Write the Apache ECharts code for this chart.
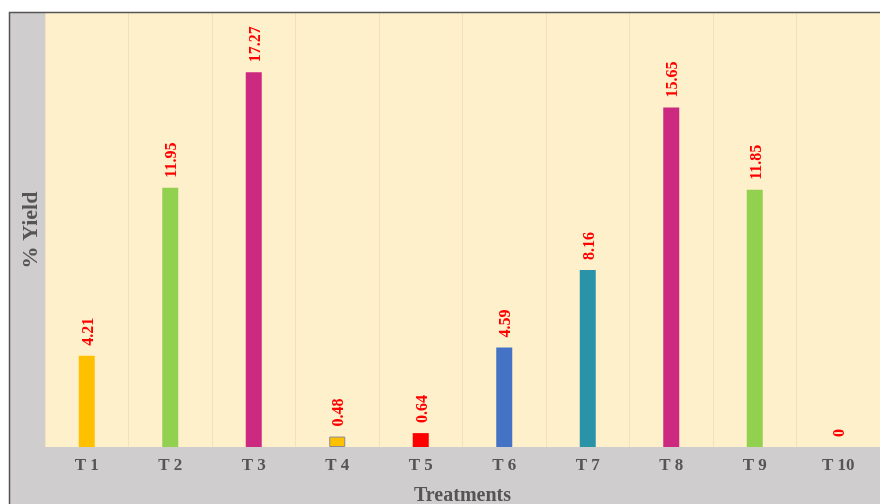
<!DOCTYPE html>
<html>
<head>
<meta charset="utf-8">
<script src="https://cdn.jsdelivr.net/npm/echarts@6/dist/echarts.min.js"></script>
<style>
  html, body { margin: 0; padding: 0; background: #ffffff; }
  #chart { width: 880px; height: 504px; }
</style>
</head>
<body>
<div id="chart"></div>
<script>
// Treatments on the x axis and their % yield
const categories = ['T1', 'T2', 'T3', 'T4', 'T5', 'T6', 'T7', 'T8', 'T9', 'T10'];
const yieldValues = [4.21, 11.95, 17.27, 0.48, 0.64, 4.59, 8.16, 15.65, 11.85, 0];
const barColors = ['#ffc000', '#92d050', '#cc2a80', '#ffc000', '#ff0000',
                   '#4472c4', '#2b93a8', '#cc2a80', '#92d050', '#ffc000'];

const chart = echarts.init(document.getElementById('chart'), null, { renderer: 'canvas' });

const serif = '"Liberation Serif", "DejaVu Serif", serif';

chart.setOption({
  animation: false,
  backgroundColor: '#ffffff',
  graphic: [
    // grey chart-area frame behind the plot
    {
      type: 'rect', z: -10,
      shape: { x: 10, y: 13, width: 870, height: 491 },
      style: { fill: '#d0cdce' }
    },
    {
      type: 'polyline', z: 100,
      shape: { points: [[9.5, 504], [9.5, 12.5], [880, 12.5]] },
      style: { stroke: '#555555', lineWidth: 1.5, fill: null }
    }
  ],
  grid: {
    left: 45, right: 0, top: 13, bottom: 57,
    outerBoundsMode: 'none',
    containLabel: false,
    show: true,
    backgroundColor: '#fff0cc',
    borderWidth: 0
  },
  xAxis: {
    type: 'category',
    data: categories,
    axisLine: { show: false },
    axisTick: { show: false },
    splitLine: { show: true, lineStyle: { color: '#f1e2bd', width: 1 } },
    axisLabel: {
      margin: 10,
      color: '#555555',
      fontFamily: serif,
      fontWeight: 'bold',
      fontSize: 17,
      formatter: v => v.replace(/^T/, 'T\u2005')
    },
    name: 'Treatments',
    nameLocation: 'middle',
    nameGap: 39,
    nameTextStyle: { color: '#555555', fontFamily: serif, fontWeight: 'bold', fontSize: 20 }
  },
  yAxis: {
    type: 'value',
    min: 0, max: 20,
    axisLine: { show: false },
    axisTick: { show: false },
    axisLabel: { show: false },
    splitLine: { show: false },
    name: '% Yield',
    nameLocation: 'middle',
    nameGap: 3,
    nameTextStyle: { color: '#555555', fontFamily: serif, fontWeight: 'bold', fontSize: 22 }
  },
  series: [{
    type: 'bar',
    barWidth: 16,
    data: yieldValues.map((v, i) => ({
      value: v,
      itemStyle: i === 3
        ? { color: barColors[i], borderColor: '#8a8a8a', borderWidth: 1 }
        : { color: barColors[i] }
    })),
    label: {
      show: true,
      position: 'top',
      rotate: 90,
      align: 'left',
      verticalAlign: 'middle',
      distance: 10,
      offset: [0, 2],
      color: '#ff0000',
      fontFamily: serif,
      fontWeight: 'bold',
      fontSize: 16
    }
  }]
});
</script>
</body>
</html>
